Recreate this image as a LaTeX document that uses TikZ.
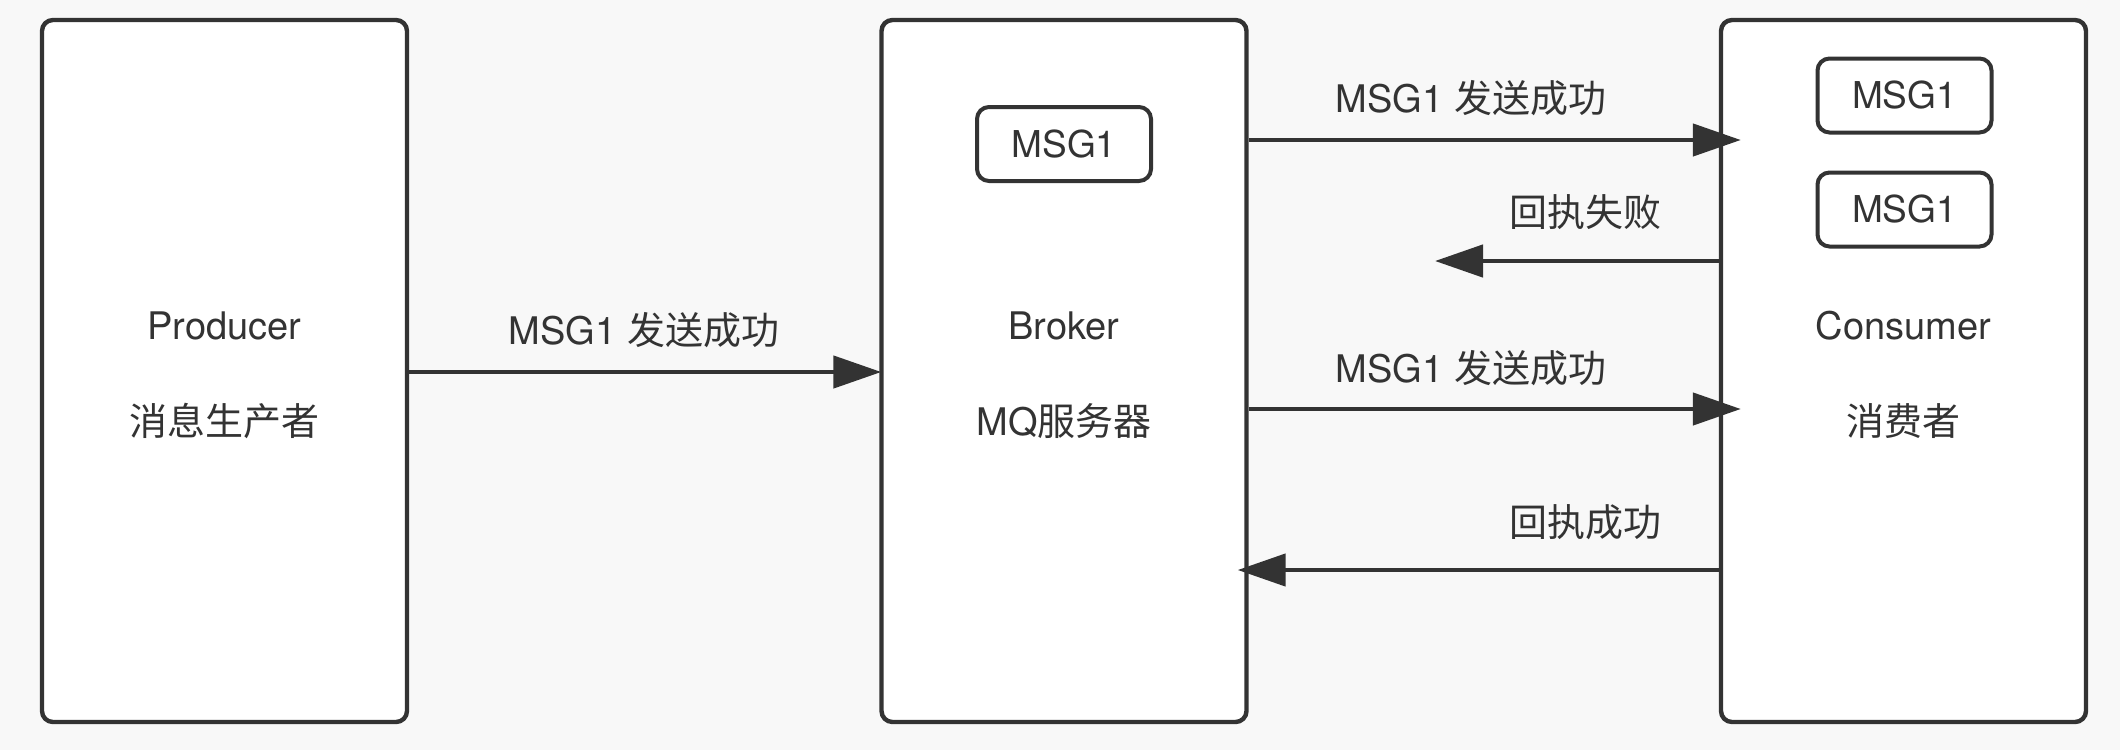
\documentclass[tikz,border=0pt]{standalone}
\usepackage{fontspec}
\setmainfont{TeX Gyre Heros}
\newfontfamily\cjk{Noto Sans CJK SC}
\usetikzlibrary{arrows.meta}
\definecolor{ink}{HTML}{333333}
\definecolor{bg}{HTML}{F8F8F8}
\begin{document}
\begin{tikzpicture}[x=0.5pt,y=-0.5pt,
  bigbox/.style={draw=ink, line width=2.2pt, fill=white, rounded corners=5.5pt,
    minimum width=182.5pt, minimum height=351pt, inner sep=0pt},
  msgbox/.style={draw=ink, line width=2pt, fill=white, rounded corners=6pt,
    minimum width=87pt, minimum height=37pt, inner sep=0pt,
    font=\fontsize{18.5}{21}\selectfont, text=ink},
  lbl/.style={font=\fontsize{19}{22}\selectfont, text=ink, inner sep=0pt},
  arr/.style={draw=ink, line width=2.3pt, -{Triangle[length=24pt,width=16pt]}}]
\fill[bg] (0,0) rectangle (2120,750);
\useasboundingbox (0,0) rectangle (2120,750);

% main boxes
\node[bigbox] (producer) at (224.5,371) {};
\node[bigbox] (broker)   at (1064,371) {};
\node[bigbox] (consumer) at (1903.5,371) {};

% box texts
\node[lbl] (prodt1) at (224.5,326) {Producer};
\node[lbl] (prodt2) at (224.5,421) {\cjk 消息生产者};
\node[lbl] (brokt1) at (1064,326) {Broker};
\node[lbl] (brokt2) at (1064,421) {MQ{\cjk 服务器}};
\node[lbl] (const1) at (1903.5,326) {Consumer};
\node[lbl] (const2) at (1903.5,421) {\cjk 消费者};

% message boxes
\node[msgbox] (bmsg)  at (1064,144) {MSG1};
\node[msgbox] (cmsg1) at (1904.5,95.5) {MSG1};
\node[msgbox] (cmsg2) at (1904.5,209.5) {MSG1};

% arrows
\draw[arr] (producer.east |- 0,372) -- ([xshift=1pt]broker.west |- 0,372);
\draw[arr] (broker.east |- 0,140) -- ([xshift=11pt]consumer.west |- 0,140);
\draw[arr] (consumer.west |- 0,261) -- (1435,261);
\draw[arr] (broker.east |- 0,409) -- ([xshift=11pt]consumer.west |- 0,409);
\draw[arr] (consumer.west |- 0,570) -- ([xshift=-5.5pt]broker.east |- 0,570);

% arrow labels
\node[lbl] (l1) at (644,330) {MSG1 {\cjk 发送成功}};
\node[lbl] (l2) at (1471,98) {MSG1 {\cjk 发送成功}};
\node[lbl] (l3) at (1585,212) {\cjk 回执失败};
\node[lbl] (l4) at (1471,368) {MSG1 {\cjk 发送成功}};
\node[lbl] (l5) at (1585,522) {\cjk 回执成功};
\end{tikzpicture}
\end{document}
